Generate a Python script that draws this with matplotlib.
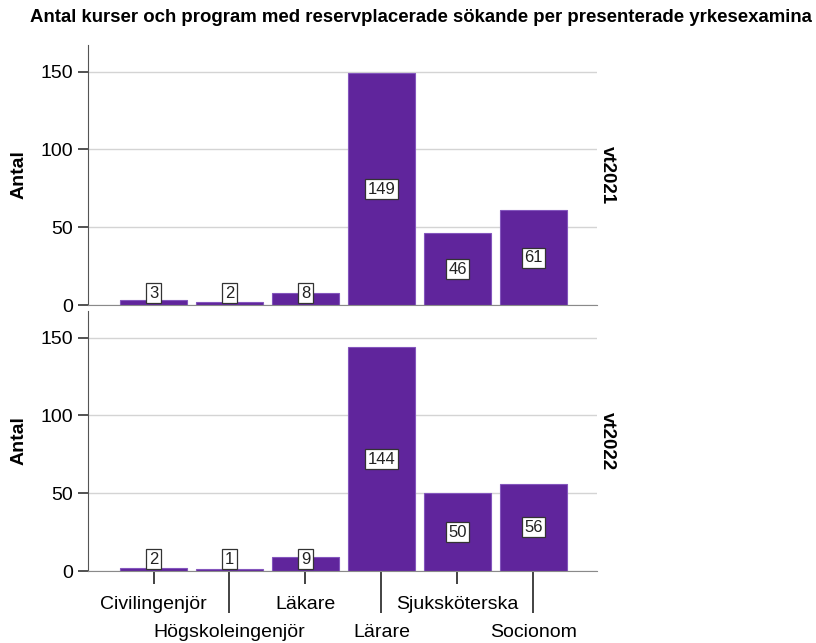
import matplotlib
matplotlib.use("Agg")
import matplotlib.pyplot as plt

plt.rcParams["font.family"] = ["Liberation Sans", "DejaVu Sans"]

# ---------------------------------------------------------------------------
# Data
# ---------------------------------------------------------------------------

examina = ["Civilingenjör", "Högskoleingenjör", "Läkare", "Lärare", "Sjuksköterska", "Socionom"]
terminer = ["vt2021", "vt2022"]
antal_vt2021 = [3, 2, 8, 149, 46, 61]
antal_vt2022 = [2, 1, 9, 144, 50, 56]
antal = [antal_vt2021, antal_vt2022]

title = "Antal kurser och program med reservplacerade sökande per presenterade yrkesexamina"

BAR_COLOR  = "#60259c"
EDGE_COLOR = "#8456bd"
GRID_COLOR = "#d4d4d4"

# ---------------------------------------------------------------------------
# Figure
# ---------------------------------------------------------------------------

fig = plt.figure(figsize=(8.16, 6.43), dpi=100)
fig.text(30 / 816, 1 - 18 / 643, title, fontsize=13.4, fontweight="bold",
         ha="left", va="center")

left, width = 88 / 816, 509 / 816
panel_h = 260 / 643
bottoms = [1 - 305 / 643, 1 - 571 / 643]

x = list(range(len(examina)))

for i, (termin, values) in enumerate(zip(terminer, antal)):
    ax = fig.add_axes([left, bottoms[i], width, panel_h])
    ax.bar(x, values, width=0.88, color=BAR_COLOR, edgecolor=EDGE_COLOR,
           linewidth=0.8, zorder=2)

    # value labels in white boxes, kept above the baseline for small bars
    for xi, v in zip(x, values):
        ax.text(xi, max(v / 2, 7.5), str(v), ha="center", va="center",
                fontsize=12, color="#222222", zorder=3,
                bbox=dict(boxstyle="square,pad=0.15", facecolor="white",
                          edgecolor="#333333", linewidth=0.9))

    ax.set_xlim(-0.862, 5.836)
    ax.set_ylim(0, 167.2)
    ax.set_yticks([0, 50, 100, 150])
    ax.yaxis.grid(True, color=GRID_COLOR, linewidth=1.0, zorder=0)
    ax.set_axisbelow(True)

    for side in ["top", "right"]:
        ax.spines[side].set_visible(False)
    ax.spines["left"].set_color("#555555")
    ax.spines["bottom"].set_color("#8a8a8a")

    ax.tick_params(axis="y", length=7, width=1.2, color="#333333", pad=4,
                   labelsize=14)
    ax.set_ylabel("Antal", fontsize=14, fontweight="bold", labelpad=9)
    ax.text(1.003, 0.5, termin, transform=ax.transAxes, rotation=-90,
            fontsize=13.5, fontweight="bold", ha="left", va="center")

    if i == 0:
        ax.set_xticks([])
    else:
        # alternate tick lengths so the long names fit on two rows
        ax.set_xticks(x[0::2], examina[0::2])
        ax.set_xticks(x[1::2], examina[1::2], minor=True)
        ax.tick_params(axis="x", which="major", length=9, width=1.2,
                       color="#222222", pad=9, labelsize=14)
        ax.tick_params(axis="x", which="minor", length=30, width=1.2,
                       color="#222222", pad=8, labelsize=14)

fig.savefig("out.png", dpi=100)
